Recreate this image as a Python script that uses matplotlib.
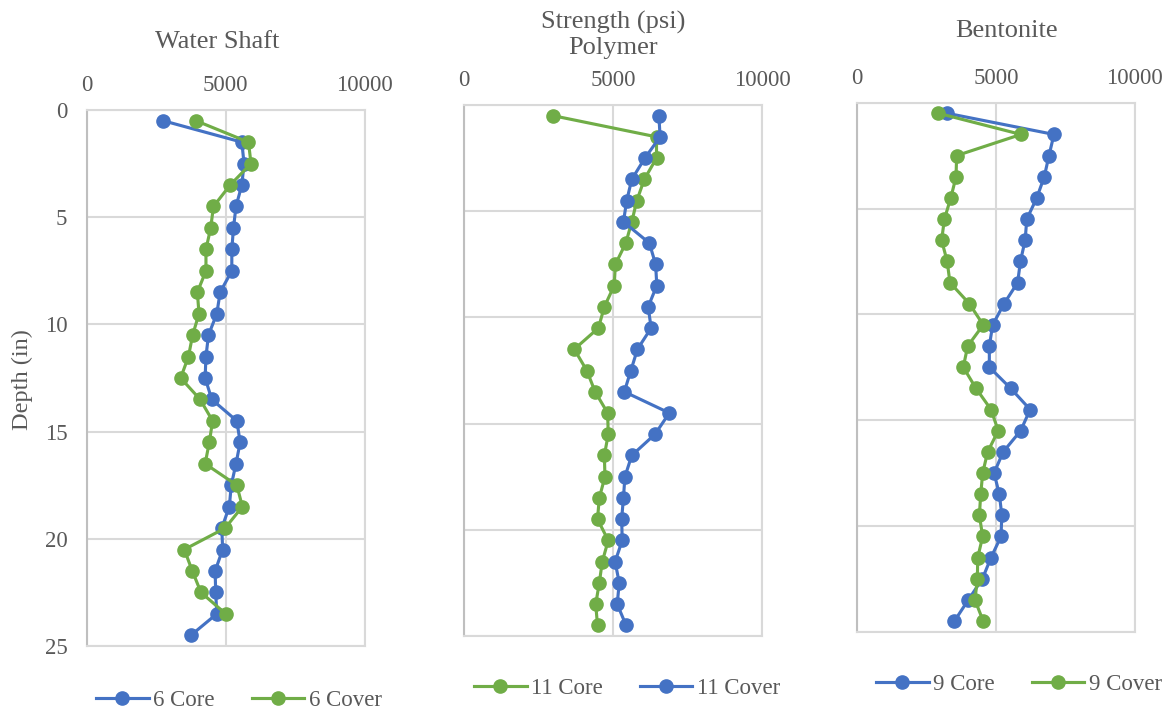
import matplotlib
matplotlib.use("Agg")
import matplotlib.pyplot as plt

# depth of each test (in)
depth_25 = [0.5, 1.5, 2.5, 3.5, 4.5, 5.5, 6.5, 7.5, 8.5, 9.5, 10.5, 11.5, 12.5,
            13.5, 14.5, 15.5, 16.5, 17.5, 18.5, 19.5, 20.5, 21.5, 22.5, 23.5, 24.5]
depth_24 = [0.5, 1.5, 2.5, 3.5, 4.5, 5.5, 6.5, 7.5, 8.5, 9.5, 10.5, 11.5, 12.5,
            13.5, 14.5, 15.5, 16.5, 17.5, 18.5, 19.5, 20.5, 21.5, 22.5, 23.5]

# strength (psi)
ws_core = [2750, 5580, 5660, 5580, 5370, 5280, 5220, 5220, 4800, 4680, 4380, 4290, 4260,
           4500, 5400, 5520, 5370, 5200, 5130, 4860, 4890, 4620, 4640, 4680, 3750]
ws_cover = [3930, 5820, 5910, 5160, 4560, 4460, 4290, 4290, 3980, 4040, 3810, 3660, 3380,
            4080, 4530, 4410, 4260, 5400, 5600, 4980, 3510, 3800, 4110, 5000]

poly_core = [2970, 6450, 6450, 6040, 5790, 5620, 5420, 5070, 5030, 4700, 4500, 3690, 4110,
             4390, 4810, 4830, 4700, 4720, 4530, 4470, 4830, 4630, 4530, 4410, 4470]
poly_cover = [6530, 6570, 6060, 5620, 5450, 5340, 6210, 6420, 6460, 6170, 6270, 5810, 5590,
              5370, 6880, 6400, 5620, 5390, 5340, 5280, 5300, 5060, 5200, 5130, 5430]

bent_core = [3240, 7090, 6910, 6740, 6470, 6110, 6050, 5880, 5780, 5290, 4880, 4760, 4760,
             5530, 6230, 5890, 5260, 4930, 5120, 5210, 5180, 4820, 4510, 4000, 3500]
bent_cover = [2920, 5900, 3580, 3560, 3370, 3140, 3040, 3240, 3340, 4040, 4540, 3980, 3820,
              4280, 4820, 5080, 4700, 4520, 4450, 4400, 4520, 4340, 4330, 4240, 4540]

BLUE = "#4472C4"
GREEN = "#70AD47"
TXT = "#595959"
GRID = "#D9D9D9"

plt.rcParams["font.family"] = ["Liberation Serif", "DejaVu Serif"]

W, H = 1168, 715
fig = plt.figure(figsize=(W / 100, H / 100), dpi=100)


def px_axes(l, t, r, b):
    return fig.add_axes([l / W, 1 - b / H, (r - l) / W, (b - t) / H])


def style(ax, show_y):
    ax.set_xlim(0, 10000)
    ax.set_ylim(25, 0)
    ax.set_xticks([0, 5000, 10000])
    ax.set_yticks([0, 5, 10, 15, 20, 25])
    ax.xaxis.tick_top()
    ax.tick_params(axis="x", length=0, pad=10, labelsize=16.5, labelcolor=TXT)
    ax.tick_params(axis="y", length=0, pad=14, labelsize=16.5, labelcolor=TXT,
                   labelleft=show_y)
    ax.grid(True, color=GRID, linewidth=1.5)
    ax.set_axisbelow(True)
    for name, sp in ax.spines.items():
        sp.set_color("#BFBFBF" if name == "left" else GRID)
        sp.set_linewidth(1.5)


def series(ax, x, y, color, label):
    ax.plot(x, y, color=color, linewidth=2.25, marker="o", markersize=9.5,
            label=label, clip_on=False)


def legend(ax, cx, cy):
    ax.legend(loc="center", bbox_to_anchor=(cx / W, 1 - cy / H),
              bbox_transform=fig.transFigure, ncol=2, frameon=False,
              fontsize=16.5, labelcolor=TXT, handlelength=2.3,
              handletextpad=0.2, columnspacing=1.6)


# Water Shaft
ax1 = px_axes(86.7, 110, 364.7, 646)
style(ax1, True)
series(ax1, ws_core, depth_25, BLUE, "6 Core")
series(ax1, ws_cover, depth_24, GREEN, "6 Cover")
legend(ax1, 239, 700)
fig.text(217 / W, 1 - 42 / H, "Water Shaft", ha="center", va="center",
         fontsize=19, color=TXT)
fig.text(22 / W, 1 - 380 / H, "Depth (in)", ha="center", va="center",
         rotation=90, fontsize=17.5, color=TXT)

# Polymer
ax2 = px_axes(464.3, 105, 762.3, 636)
style(ax2, False)
series(ax2, poly_core, depth_25, GREEN, "11 Core")
series(ax2, poly_cover, depth_25, BLUE, "11 Cover")
legend(ax2, 627, 688)
fig.text(613 / W, 1 - 35 / H, "Strength (psi)\nPolymer", ha="center", va="center",
         fontsize=19, color=TXT, linespacing=1.15)

# Bentonite
ax3 = px_axes(857.3, 102.7, 1134.7, 631.7)
style(ax3, False)
series(ax3, bent_core, depth_25, BLUE, "9 Core")
series(ax3, bent_cover, depth_25, GREEN, "9 Cover")
legend(ax3, 1019, 684)
fig.text(1007 / W, 1 - 31 / H, "Bentonite", ha="center", va="center",
         fontsize=19, color=TXT)

fig.savefig("out.png", dpi=100)
